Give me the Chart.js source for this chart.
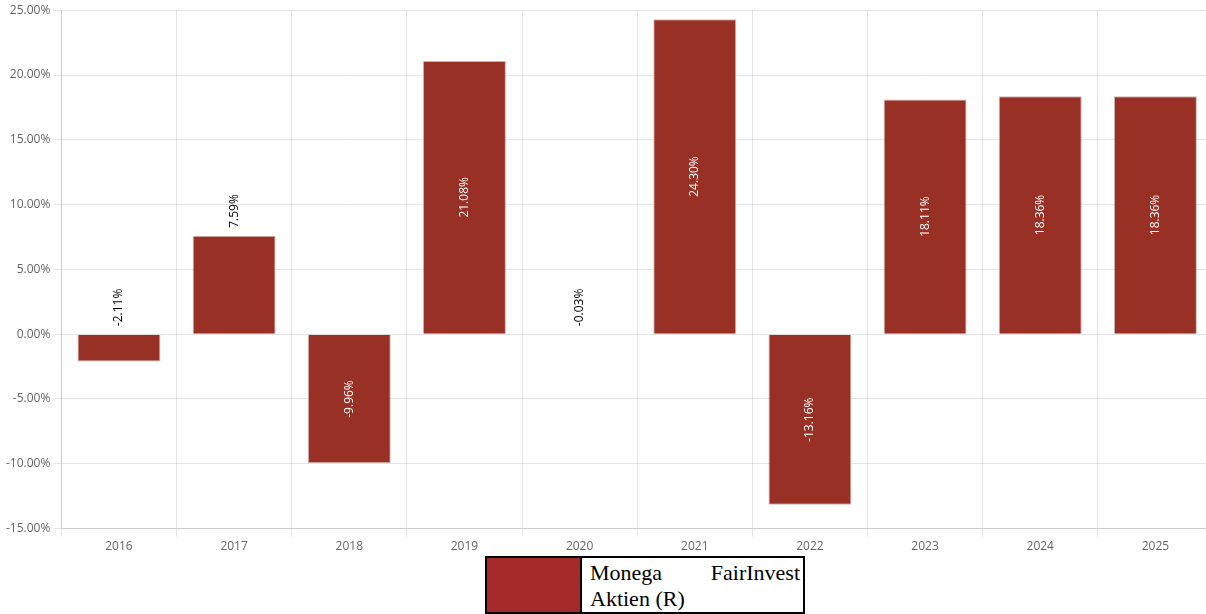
<!DOCTYPE html>
<html>
<head>
<meta charset="utf-8">
<script src="https://cdn.jsdelivr.net/npm/chart.js@4/dist/chart.umd.min.js"></script>
<style>
  body { margin: 0; background: #fff; overflow: hidden; }
  #wrap { position: relative; width: 1213px; height: 557px; }
  #legend {
    position: absolute; left: 485px; top: 556px;
    width: 320px; border: 2px solid #000; border-collapse: collapse;
    font-family: "Liberation Serif", serif; font-size: 22px; background: #fff;
  }
  #legend td { padding: 0; vertical-align: top; }
  #legend .sw { width: 93px; background: #a52a2a; border-right: 2px solid #000; }
  #legend .tx { padding: 2px 3px 0 8px; text-align: justify; line-height: 26px; }
</style>
</head>
<body>
<div id="wrap"><canvas id="myChart"></canvas></div>
<table id="legend"><tr><td class="sw"></td><td class="tx">Monega FairInvest Aktien (R)</td></tr></table>
<script>
// data
var years = ["2016","2017","2018","2019","2020","2021","2022","2023","2024","2025"];
var returns = [-2.11, 7.59, -9.96, 21.08, -0.03, 24.30, -13.16, 18.11, 18.36, 18.36];
var seriesName = "Monega FairInvest Aktien (R)";

// rotated value labels: small values above the bar/zero line in black, the rest centred in white
var barLabels = {
  id: 'barLabels',
  afterDatasetsDraw: function(chart){
    var ctx = chart.ctx;
    var meta = chart.getDatasetMeta(0);
    var zero = chart.scales.y.getPixelForValue(0);
    ctx.save();
    ctx.font = '12px "Open Sans"';
    meta.data.forEach(function(bar, i){
      var txt = returns[i].toFixed(2) + '%';
      ctx.save();
      if (Math.abs(returns[i]) >= 9) {
        ctx.translate(bar.x, (bar.y + bar.base) / 2);
        ctx.rotate(-Math.PI / 2);
        ctx.fillStyle = '#fff';
        ctx.textAlign = 'center';
      } else {
        var top = Math.min(bar.y, zero);
        ctx.translate(bar.x, top - 8);
        ctx.rotate(-Math.PI / 2);
        ctx.fillStyle = '#000';
        ctx.textAlign = 'left';
      }
      ctx.textBaseline = 'middle';
      ctx.fillText(txt, 0, 0);
      ctx.restore();
    });
    ctx.restore();
  }
};

var ctx = document.getElementById('myChart').getContext('2d');
var myChart = new Chart(ctx, {
  type: 'bar',
  data: {
    labels: years,
    datasets: [{
      label: seriesName,
      data: returns,
      backgroundColor: '#993026',
      borderColor: 'rgba(190,160,155,0.8)',
      borderWidth: 1
    }]
  },
  options: {
    responsive: true,
    maintainAspectRatio: false,
    animation: false,
    layout: { padding: { top: 6, left: 3, right: 0 } },
    plugins: { legend: { display: false }, tooltip: { enabled: false } },
    scales: {
      x: {
        grid: { color: 'rgba(0,0,0,0.1)', offset: true },
        ticks: { color: '#666', font: { family: 'Open Sans', size: 12 } }
      },
      y: {
        min: -15, max: 25,
        grid: { color: 'rgba(0,0,0,0.1)' },
        ticks: {
          stepSize: 5, color: '#666', font: { family: 'Open Sans', size: 12 },
          callback: function(v){ return v.toFixed(2) + '%'; }
        }
      }
    }
  },
  plugins: [barLabels]
});
</script>
</body>
</html>
